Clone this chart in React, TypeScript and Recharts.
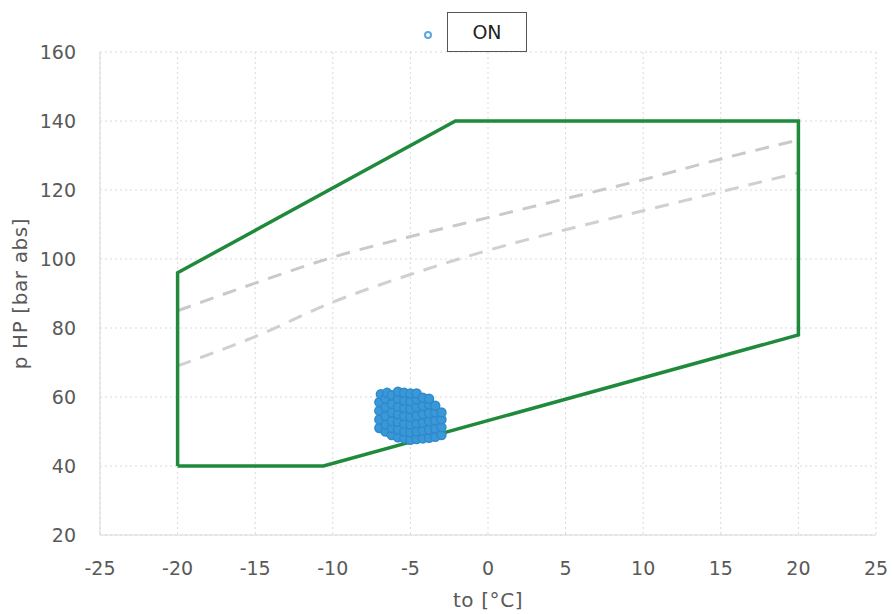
import { ScatterChart, Scatter, XAxis, YAxis, CartesianGrid } from 'recharts'

// envelope of the compressor (to, p HP)
const envelopeTo = [-20, -20, -2.1, 20, 20, -10.6, -20]
const envelopeP = [40, 96, 140, 140, 78, 40, 40]

// dashed reference curves
const curveTo = [-20, -15, -10, -5, 0, 5, 10, 15, 20]
const upperP = [85, 93, 100.5, 106.5, 112, 117.5, 123, 129, 134.5]
const lowerP = [69, 77.5, 87.5, 95.5, 102.5, 108.5, 114, 119.5, 125]

// measured operating points, state ON
const onPoints = [
  [-7.0, 51], [-7.0, 53.5], [-7.0, 56], [-7.0, 58.5], [-6.9, 60.8],
  [-6.6, 50], [-6.6, 52], [-6.6, 54.5], [-6.6, 57], [-6.6, 59.5], [-6.5, 61.2],
  [-6.2, 49], [-6.2, 51], [-6.2, 53], [-6.2, 55.5], [-6.2, 58], [-6.2, 60.5],
  [-5.8, 48.3], [-5.8, 50.5], [-5.8, 52.8], [-5.8, 55], [-5.8, 57.2], [-5.8, 59.5], [-5.8, 61.5],
  [-5.4, 48], [-5.4, 50], [-5.4, 52.2], [-5.4, 54.5], [-5.4, 56.8], [-5.4, 59], [-5.4, 61.2],
  [-5.0, 47.6], [-5.0, 49.8], [-5.0, 52], [-5.0, 54.2], [-5.0, 56.5], [-5.0, 58.8], [-5.0, 61],
  [-4.6, 47.8], [-4.6, 50], [-4.6, 52.3], [-4.6, 54.6], [-4.6, 57], [-4.6, 59.3], [-4.6, 61],
  [-4.2, 48], [-4.2, 50.2], [-4.2, 52.5], [-4.2, 55], [-4.2, 57.4], [-4.2, 59.8],
  [-3.8, 48.2], [-3.8, 50.5], [-3.8, 53], [-3.8, 55.3], [-3.8, 57.8], [-3.8, 59.5],
  [-3.4, 48.5], [-3.4, 50.8], [-3.4, 53.2], [-3.4, 55.5], [-3.4, 57.5],
  [-3.0, 49], [-3.0, 51.2], [-3.0, 53.5], [-3.0, 55.5],
]

const xTicks = [-25, -20, -15, -10, -5, 0, 5, 10, 15, 20, 25]
const yTicks = [20, 40, 60, 80, 100, 120, 140, 160]

const envelopeData = envelopeTo.map((x, i) => ({ x, y: envelopeP[i] }))
const upperData = curveTo.map((x, i) => ({ x, y: upperP[i] }))
const lowerData = curveTo.map((x, i) => ({ x, y: lowerP[i] }))
const onData = onPoints.map(([x, y]) => ({ x, y }))

const font = '"DejaVu Sans", "Liberation Sans", sans-serif'
const tickStyle = { fill: '#595959', fontSize: 19, fontFamily: font }
const labelStyle = { fill: '#595959', fontSize: 20, fontFamily: font, letterSpacing: 0.6 }
const noDot = () => <g />

const App = () => {
  return (
    <div style={{ position: 'absolute', left: 0, top: 0, width: 894, height: 614, background: '#fff' }}>
      <ScatterChart width={894} height={614} margin={{ top: 52, right: 18, bottom: 4, left: 12 }}>
        <CartesianGrid stroke="#d9d9d9" strokeDasharray="2 3" />
        <XAxis
          type="number"
          dataKey="x"
          domain={[-25, 25]}
          ticks={xTicks}
          height={75}
          stroke="#d9d9d9"
          tickLine={false}
          tickSize={0}
          tickMargin={27}
          tick={tickStyle}
          label={{ value: 'to [°C]', position: 'insideBottom', offset: 3, style: labelStyle }}
        />
        <YAxis
          type="number"
          dataKey="y"
          domain={[20, 160]}
          ticks={yTicks}
          width={88}
          stroke="#d9d9d9"
          tickLine={false}
          tickSize={0}
          tickMargin={24}
          tick={tickStyle}
          label={{ value: 'p HP [bar abs]', angle: -90, position: 'insideLeft', offset: 8, style: { ...labelStyle, textAnchor: 'middle' } }}
        />
        <Scatter
          data={upperData}
          fill="#c9c9c9"
          line={{ strokeWidth: 3, strokeDasharray: '14 10' }}
          lineType="joint"
          lineJointType="monotoneX"
          shape={noDot}
          isAnimationActive={false}
        />
        <Scatter
          data={lowerData}
          fill="#d0d0d0"
          line={{ strokeWidth: 3, strokeDasharray: '14 10' }}
          lineType="joint"
          lineJointType="monotoneX"
          shape={noDot}
          isAnimationActive={false}
        />
        <Scatter
          data={envelopeData}
          fill="#1f8a3b"
          line={{ strokeWidth: 3.5 }}
          lineType="joint"
          shape={noDot}
          isAnimationActive={false}
        />
        <Scatter
          name="ON"
          data={onData}
          fill="#3b96d6"
          shape={(p: any) => <circle cx={p.cx} cy={p.cy} r={4.5} fill="#3b98d8" stroke="#2f8aca" strokeWidth={1.5} />}
          isAnimationActive={false}
        />
      </ScatterChart>
      <div style={{ position: 'absolute', left: 424, top: 31, width: 8, height: 8, borderRadius: '50%', border: '2px solid #5aa8e0', boxSizing: 'border-box' }} />
      <div
        style={{
          position: 'absolute',
          left: 447,
          top: 12,
          width: 80,
          height: 40,
          border: '1px solid #555',
          boxSizing: 'border-box',
          background: '#fff',
          display: 'flex',
          alignItems: 'center',
          justifyContent: 'center',
          fontFamily: font,
          fontSize: 19,
          color: '#222',
        }}
      >
        ON
      </div>
    </div>
  )
}

export default App
